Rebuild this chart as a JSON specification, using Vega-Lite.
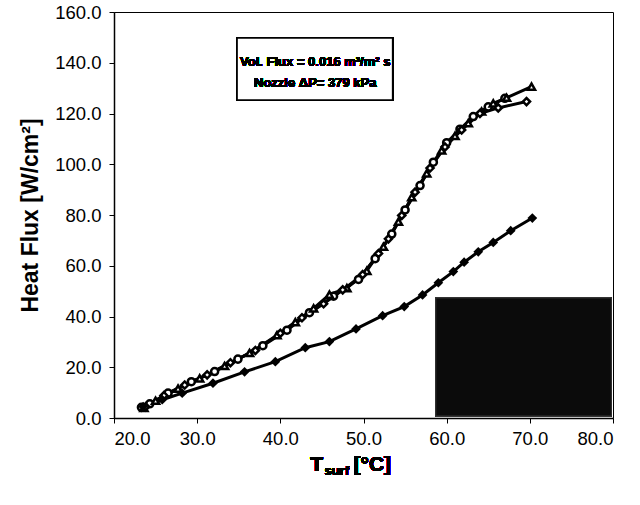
{
  "$schema": "https://vega.github.io/schema/vega-lite/v6.json",
  "autosize": {"type": "none"},
  "width": 499,
  "height": 406,
  "padding": {"left": 114, "top": 12, "right": 27, "bottom": 87},
  "background": "white",
  "config": {
    "view": {"stroke": "black", "strokeWidth": 1},
    "axis": {
      "domainColor": "black", "domainWidth": 1.5, "tickColor": "black", "tickSize": 5,
      "labelFont": "Liberation Sans", "labelFontSize": 18.5, "labelColor": "black",
      "titleFont": "Liberation Sans", "titleColor": "black", "grid": false
    },
    "text": {"font": "Liberation Sans"}
  },
  "data": {"values": [
    {"series": "circle", "T": 23.3, "HF": 4.2}, {"series": "circle", "T": 24.3, "HF": 5.6},
    {"series": "circle", "T": 26.5, "HF": 9.8}, {"series": "circle", "T": 29.3, "HF": 14.3},
    {"series": "circle", "T": 32.1, "HF": 18.3}, {"series": "circle", "T": 34.9, "HF": 23.2},
    {"series": "circle", "T": 37.9, "HF": 28.5}, {"series": "circle", "T": 40.8, "HF": 34.6},
    {"series": "circle", "T": 43.5, "HF": 41.5}, {"series": "circle", "T": 46.4, "HF": 48.0},
    {"series": "circle", "T": 49.4, "HF": 54.6}, {"series": "circle", "T": 51.4, "HF": 62.8},
    {"series": "circle", "T": 53.4, "HF": 72.5}, {"series": "circle", "T": 55.0, "HF": 82.0},
    {"series": "circle", "T": 56.8, "HF": 91.6}, {"series": "circle", "T": 58.4, "HF": 100.8},
    {"series": "circle", "T": 60.0, "HF": 108.5}, {"series": "circle", "T": 61.6, "HF": 113.8},
    {"series": "circle", "T": 63.2, "HF": 118.8}, {"series": "circle", "T": 65.0, "HF": 122.6},
    {"series": "circle", "T": 67.0, "HF": 126.0},

    {"series": "triangle", "T": 23.6, "HF": 4.0}, {"series": "triangle", "T": 25.0, "HF": 6.8},
    {"series": "triangle", "T": 27.7, "HF": 11.6}, {"series": "triangle", "T": 30.3, "HF": 15.6},
    {"series": "triangle", "T": 33.3, "HF": 20.5}, {"series": "triangle", "T": 36.3, "HF": 25.6},
    {"series": "triangle", "T": 39.6, "HF": 32.6}, {"series": "triangle", "T": 41.8, "HF": 37.8},
    {"series": "triangle", "T": 44.0, "HF": 43.2}, {"series": "triangle", "T": 45.9, "HF": 48.6},
    {"series": "triangle", "T": 48.0, "HF": 51.2}, {"series": "triangle", "T": 50.4, "HF": 58.0},
    {"series": "triangle", "T": 52.4, "HF": 67.5}, {"series": "triangle", "T": 54.2, "HF": 77.4},
    {"series": "triangle", "T": 55.8, "HF": 87.0}, {"series": "triangle", "T": 57.6, "HF": 96.4},
    {"series": "triangle", "T": 59.4, "HF": 105.4}, {"series": "triangle", "T": 61.0, "HF": 111.2},
    {"series": "triangle", "T": 62.6, "HF": 116.2}, {"series": "triangle", "T": 64.2, "HF": 120.8},
    {"series": "triangle", "T": 65.6, "HF": 124.0}, {"series": "triangle", "T": 67.2, "HF": 126.2},
    {"series": "triangle", "T": 70.2, "HF": 130.6},

    {"series": "diamond", "T": 23.8, "HF": 4.4}, {"series": "diamond", "T": 26.0, "HF": 8.8},
    {"series": "diamond", "T": 28.5, "HF": 13.0}, {"series": "diamond", "T": 31.2, "HF": 17.0},
    {"series": "diamond", "T": 34.0, "HF": 21.8}, {"series": "diamond", "T": 37.0, "HF": 26.6},
    {"series": "diamond", "T": 40.0, "HF": 33.4}, {"series": "diamond", "T": 42.6, "HF": 39.5},
    {"series": "diamond", "T": 45.2, "HF": 45.0}, {"series": "diamond", "T": 47.5, "HF": 50.5},
    {"series": "diamond", "T": 49.9, "HF": 56.5}, {"series": "diamond", "T": 51.8, "HF": 64.8},
    {"series": "diamond", "T": 53.0, "HF": 70.6}, {"series": "diamond", "T": 54.6, "HF": 79.8},
    {"series": "diamond", "T": 56.2, "HF": 89.0}, {"series": "diamond", "T": 58.0, "HF": 98.5},
    {"series": "diamond", "T": 59.8, "HF": 106.8}, {"series": "diamond", "T": 61.8, "HF": 113.5},
    {"series": "diamond", "T": 64.0, "HF": 120.0}, {"series": "diamond", "T": 66.2, "HF": 122.2},
    {"series": "diamond", "T": 69.6, "HF": 124.7},

    {"series": "filled", "T": 23.5, "HF": 4.5}, {"series": "filled", "T": 25.8, "HF": 7.2},
    {"series": "filled", "T": 28.2, "HF": 9.8}, {"series": "filled", "T": 31.9, "HF": 13.7},
    {"series": "filled", "T": 35.7, "HF": 18.2}, {"series": "filled", "T": 39.4, "HF": 22.2},
    {"series": "filled", "T": 43.0, "HF": 27.7}, {"series": "filled", "T": 45.9, "HF": 30.1},
    {"series": "filled", "T": 49.1, "HF": 35.1}, {"series": "filled", "T": 52.3, "HF": 40.3},
    {"series": "filled", "T": 54.9, "HF": 43.9}, {"series": "filled", "T": 57.1, "HF": 48.5},
    {"series": "filled", "T": 59.0, "HF": 53.3}, {"series": "filled", "T": 60.8, "HF": 57.7},
    {"series": "filled", "T": 62.1, "HF": 61.4}, {"series": "filled", "T": 63.8, "HF": 65.5},
    {"series": "filled", "T": 65.6, "HF": 69.2}, {"series": "filled", "T": 67.7, "HF": 73.8},
    {"series": "filled", "T": 70.3, "HF": 78.8}
  ]},
  "layer": [
    {
      "mark": {"type": "line", "color": "black", "strokeWidth": 3},
      "encoding": {
        "x": {"field": "T", "type": "quantitative",
              "scale": {"domain": [20, 80], "nice": false, "zero": false},
              "axis": {"values": [20, 30, 40, 50, 60, 70, 80], "format": ".1f", "title": null, "labelPadding": 6}},
        "y": {"field": "HF", "type": "quantitative",
              "scale": {"domain": [0, 160], "nice": false},
              "axis": {"values": [0, 20, 40, 60, 80, 100, 120, 140, 160], "format": ".1f",
                       "title": "Heat Flux [W/cm²]", "titleFontSize": 23, "titleFontWeight": "bold",
                       "titlePadding": 12, "labelPadding": 8}},
        "detail": {"field": "series", "type": "nominal"},
        "order": {"field": "T", "type": "quantitative"}
      }
    },
    {
      "transform": [{"filter": "datum.series !== 'filled'"}],
      "mark": {"type": "point", "filled": true, "fill": "white", "stroke": "black", "strokeWidth": 2.5, "size": 50, "opacity": 1},
      "encoding": {
        "x": {"field": "T", "type": "quantitative"},
        "y": {"field": "HF", "type": "quantitative"},
        "shape": {"field": "series", "type": "nominal",
                  "scale": {"domain": ["circle", "triangle", "diamond"], "range": ["circle", "triangle-up", "diamond"]},
                  "legend": null}
      }
    },
    {
      "transform": [{"filter": "datum.series === 'filled'"}],
      "mark": {"type": "point", "shape": "diamond", "filled": true, "color": "black", "size": 95, "opacity": 1},
      "encoding": {
        "x": {"field": "T", "type": "quantitative"},
        "y": {"field": "HF", "type": "quantitative"}
      }
    },
    {
      "mark": {"type": "rect", "fill": "#0b0b0b", "stroke": "#333", "strokeWidth": 1},
      "encoding": {
        "x": {"datum": 58.7, "type": "quantitative"},
        "x2": {"datum": 79.8},
        "y": {"datum": 0.8, "type": "quantitative"},
        "y2": {"datum": 47.3}
      }
    },
    {
      "mark": {"type": "rect", "fill": "white", "stroke": "black", "strokeWidth": 1.5},
      "encoding": {
        "x": {"datum": 34.8, "type": "quantitative"},
        "x2": {"datum": 53.5},
        "y": {"datum": 125.3, "type": "quantitative"},
        "y2": {"datum": 149.8}
      }
    },
    {
      "mark": {"type": "text", "fontSize": 13, "fontWeight": "bold", "fill": "black", "align": "center", "baseline": "middle"},
      "encoding": {
        "x": {"datum": 44.2, "type": "quantitative"},
        "y": {"datum": 140.3, "type": "quantitative"},
        "text": {"value": "Vol. Flux = 0.016 m³/m² s"}
      }
    },
    {
      "mark": {"type": "text", "fontSize": 13, "fontWeight": "bold", "fill": "black", "align": "center", "baseline": "middle"},
      "encoding": {
        "x": {"datum": 44.2, "type": "quantitative"},
        "y": {"datum": 132.0, "type": "quantitative"},
        "text": {"value": "Nozzle ΔP= 379 kPa"}
      }
    },
    {
      "mark": {"type": "text", "fontSize": 21, "fontWeight": "bold", "fill": "black", "align": "left", "baseline": "middle"},
      "encoding": {
        "x": {"datum": 43.6, "type": "quantitative"},
        "y": {"datum": -18.5, "type": "quantitative"},
        "text": {"value": "T"}
      }
    },
    {
      "mark": {"type": "text", "fontSize": 13, "fontWeight": "bold", "fill": "black", "align": "left", "baseline": "middle"},
      "encoding": {
        "x": {"datum": 45.3, "type": "quantitative"},
        "y": {"datum": -20.9, "type": "quantitative"},
        "text": {"value": "surf"}
      }
    },
    {
      "mark": {"type": "text", "fontSize": 21, "fontWeight": "bold", "fill": "black", "align": "left", "baseline": "middle"},
      "encoding": {
        "x": {"datum": 48.8, "type": "quantitative"},
        "y": {"datum": -18.5, "type": "quantitative"},
        "text": {"value": "[°C]"}
      }
    }
  ]
}
